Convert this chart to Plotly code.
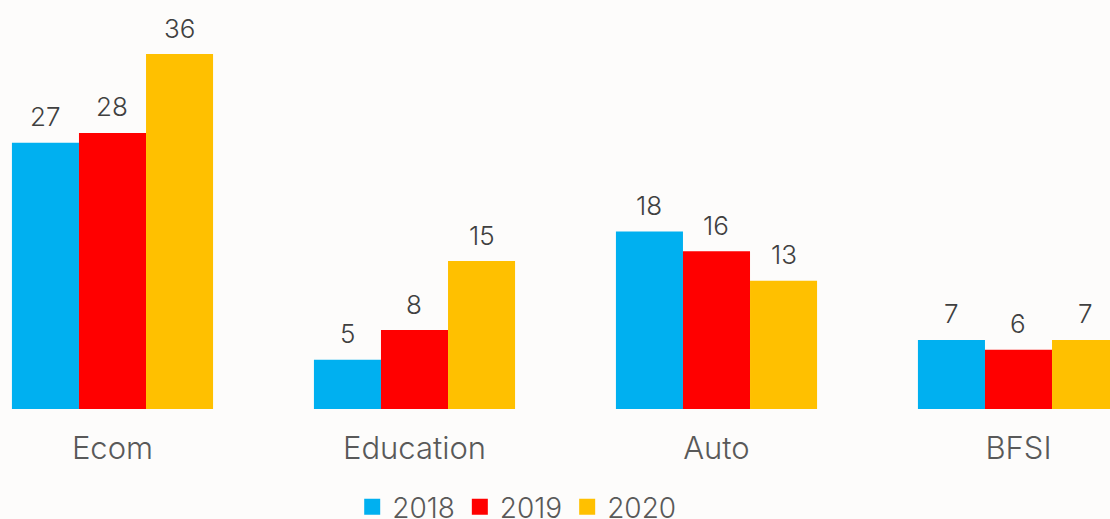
import plotly.graph_objects as go

categories = ["Ecom", "Education", "Auto", "BFSI"]
years = ["2018", "2019", "2020"]
values_2018 = [27, 5, 18, 7]
values_2019 = [28, 8, 16, 6]
values_2020 = [36, 15, 13, 7]
series = [values_2018, values_2019, values_2020]
colors = ["#00B0F0", "#FF0000", "#FFC000"]

FONT = "Inter"
BARGAP = 0.334
n = len(series)
bar_w = (1 - BARGAP) / n

fig = go.Figure()
for i, (year, vals, col) in enumerate(zip(years, series, colors)):
    fig.add_trace(go.Bar(
        x=categories, y=vals, name=year, marker_color=col,
        marker_line_width=0, showlegend=False,
    ))
    # legend entry with a larger square swatch
    fig.add_trace(go.Scatter(
        x=[None], y=[None], mode="markers", name=year,
        marker=dict(symbol="square", size=16, color=col),
    ))
    # value labels above each bar
    for j, v in enumerate(vals):
        fig.add_annotation(
            x=j + (i - (n - 1) / 2) * bar_w, y=v, text=str(v),
            showarrow=False, yanchor="middle", yshift=26,
            font=dict(family=FONT, size=26, color="#404040", weight=300),
        )

fig.update_layout(
    width=1110, height=519,
    margin=dict(l=0, r=0, t=0, b=110, autoexpand=False),
    paper_bgcolor="#fdfcfb", plot_bgcolor="#fdfcfb",
    barmode="group", bargap=BARGAP, bargroupgap=0,
    xaxis=dict(
        range=[-0.3725, 3.303], showline=False, showgrid=False,
        zeroline=False, ticks="", ticklabelstandoff=18,
        tickfont=dict(family=FONT, size=31, color="#595959", weight=300),
    ),
    yaxis=dict(range=[0, 41.48], visible=False, showgrid=False, zeroline=False),
    legend=dict(
        orientation="h", x=0.4655, xanchor="center", y=-0.2396, yanchor="middle",
        font=dict(family=FONT, size=28, color="#595959", weight=300),
        bgcolor="rgba(0,0,0,0)",
    ),
)

fig.write_html("out.html")
